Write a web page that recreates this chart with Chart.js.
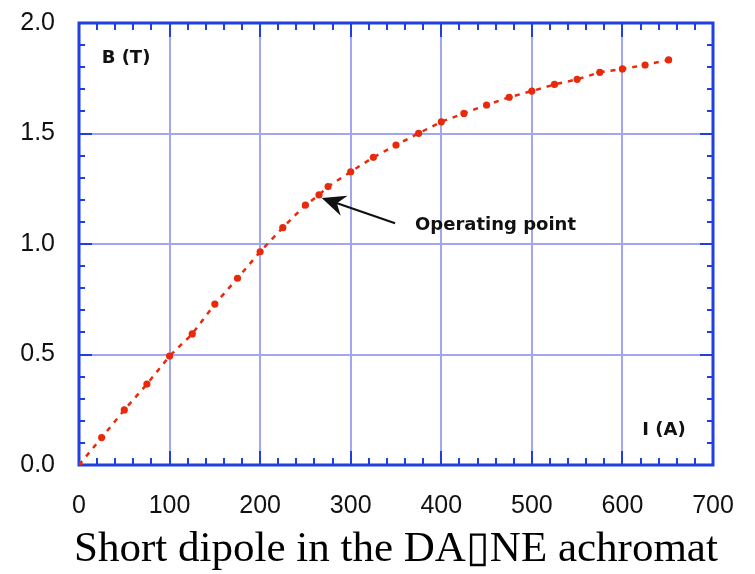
<!DOCTYPE html>
<html>
<head>
<meta charset="utf-8">
<script src="https://cdn.jsdelivr.net/npm/chart.js@4/dist/chart.umd.min.js"></script>
<style>
  html, body { margin: 0; padding: 0; background: #ffffff; }
  #chart { display: block; }
</style>
</head>
<body>
<canvas id="chart" width="755" height="574"></canvas>
<script>
// Excitation curve.
const currentA = [0, 25, 50, 75, 100, 125, 150, 175, 200, 225, 250, 265, 275, 300, 325, 350,
                  375, 400, 425, 450, 475, 500, 525, 550, 575, 600, 625, 651];
const fieldT = [0, 0.124, 0.249, 0.366, 0.493, 0.593, 0.728, 0.845, 0.965, 1.074, 1.176, 1.222,
                1.260, 1.327, 1.392, 1.448, 1.501, 1.553, 1.591, 1.629, 1.664, 1.692, 1.722,
                1.745, 1.777, 1.792, 1.810, 1.833];

const X_MIN = 0, X_MAX = 700, X_STEP = 100, X_MINOR = 20;
const Y_MIN = 0, Y_MAX = 2, Y_STEP = 0.5, Y_MINOR = 0.1;

const TITLE = "Short dipole in the DA\u25AFNE achromat";
const Y_LABEL = "B (T)";
const X_LABEL = "I (A)";
const NOTE = "Operating point";

const AXIS_BLUE = "#1f3fe0";
const GRID_BLUE = "#a2a6f0";
const RED = "#e8290c";

// Frame with inward ticks on all four sides, plus the text bits.
const framePlugin = {
    id: 'frame',
    beforeDatasetsDraw(chart) {
        const ctx = chart.ctx;
        const x = chart.scales.x, y = chart.scales.y;
        const a = chart.chartArea;
        ctx.save();
        ctx.strokeStyle = AXIS_BLUE;
        ctx.lineWidth = 2;
        ctx.beginPath();
        for (let v = X_MIN + X_MINOR; v < X_MAX; v += X_MINOR) {
            const major = Math.abs(v % X_STEP) < 1e-6;
            const len = major ? 14 : 7;
            const px = Math.round(x.getPixelForValue(v));
            ctx.moveTo(px, a.bottom); ctx.lineTo(px, a.bottom - len);
            ctx.moveTo(px, a.top); ctx.lineTo(px, a.top + len);
        }
        for (let i = 1; i < Math.round((Y_MAX - Y_MIN) / Y_MINOR); i++) {
            const v = Y_MIN + i * Y_MINOR;
            const major = i % Math.round(Y_STEP / Y_MINOR) === 0;
            const len = major ? 13 : 6;
            const py = Math.round(y.getPixelForValue(v));
            ctx.moveTo(a.left, py); ctx.lineTo(a.left + len, py);
            ctx.moveTo(a.right, py); ctx.lineTo(a.right - len, py);
        }
        ctx.stroke();
        ctx.lineWidth = 3;
        ctx.strokeRect(a.left, a.top, a.right - a.left, a.bottom - a.top);
        ctx.restore();
    },
    afterDatasetsDraw(chart) {
        const ctx = chart.ctx;
        const x = chart.scales.x, y = chart.scales.y;
        const a = chart.chartArea;
        ctx.save();
        ctx.fillStyle = "#111111";
        ctx.textBaseline = 'middle';
        ctx.textAlign = 'left';
        ctx.font = "bold 18px 'DejaVu Sans'";
        ctx.fillText(Y_LABEL, x.getPixelForValue(25), y.getPixelForValue(1.838));
        ctx.fillText(X_LABEL, x.getPixelForValue(622), y.getPixelForValue(0.155));
        ctx.fillText(NOTE, x.getPixelForValue(371), y.getPixelForValue(1.086));

        // arrow to the operating point
        const tipX = x.getPixelForValue(268), tipY = y.getPixelForValue(1.208);
        const tailX = x.getPixelForValue(349), tailY = y.getPixelForValue(1.094);
        const ang = Math.atan2(tailY - tipY, tailX - tipX);
        ctx.strokeStyle = "#111111";
        ctx.lineWidth = 2.2;
        ctx.beginPath();
        ctx.moveTo(tailX, tailY);
        ctx.lineTo(tipX + 14 * Math.cos(ang), tipY + 14 * Math.sin(ang));
        ctx.stroke();
        const hl = 26, hw = 0.42;
        ctx.beginPath();
        ctx.moveTo(tipX, tipY);
        ctx.lineTo(tipX + hl * Math.cos(ang + hw), tipY + hl * Math.sin(ang + hw));
        ctx.lineTo(tipX + 16 * Math.cos(ang), tipY + 16 * Math.sin(ang));
        ctx.lineTo(tipX + hl * Math.cos(ang - hw), tipY + hl * Math.sin(ang - hw));
        ctx.closePath();
        ctx.fill();

        // caption under the plot
        ctx.fillStyle = "#000000";
        ctx.textAlign = 'center';
        ctx.textBaseline = 'alphabetic';
        ctx.font = "43px 'Liberation Serif'";
        ctx.fillText(TITLE, (a.left + a.right) / 2, 561);
        ctx.restore();
    }
};

new Chart(document.getElementById("chart"), {
    type: 'scatter',
    data: {
        datasets: [{
            data: currentA.map((v, i) => ({ x: v, y: fieldT[i] })),
            showLine: true,
            borderColor: RED,
            borderWidth: 2.5,
            borderDash: [5, 6],
            pointRadius: 3.6,
            pointBackgroundColor: RED,
            pointBorderWidth: 0,
            tension: 0,
        }]
    },
    options: {
        responsive: false,
        animation: false,
        layout: { padding: { top: 23, right: 42, left: 0, bottom: 0 } },
        plugins: {
            legend: { display: false },
            tooltip: { enabled: false },
        },
        scales: {
            x: {
                type: 'linear',
                min: X_MIN,
                max: X_MAX,
                afterFit: s => {
                    s.height = 109;
                    s.paddingLeft = 0;
                    s.paddingRight = 0;
                },
                border: { display: false },
                grid: { color: GRID_BLUE, lineWidth: 2, drawTicks: false },
                ticks: {
                    stepSize: X_STEP,
                    color: "#111111",
                    padding: 26,
                    font: { family: "'Liberation Sans'", size: 25 },
                },
            },
            y: {
                min: Y_MIN,
                max: Y_MAX,
                afterFit: s => {
                    s.width = 79;
                    s.paddingTop = 0;
                    s.paddingBottom = 0;
                },
                border: { display: false },
                grid: { color: GRID_BLUE, lineWidth: 2, drawTicks: false },
                ticks: {
                    stepSize: Y_STEP,
                    color: "#111111",
                    padding: 24,
                    font: { family: "'Liberation Sans'", size: 25 },
                    callback: v => v.toFixed(1),
                },
            },
        },
    },
    plugins: [framePlugin],
});
</script>
</body>
</html>
